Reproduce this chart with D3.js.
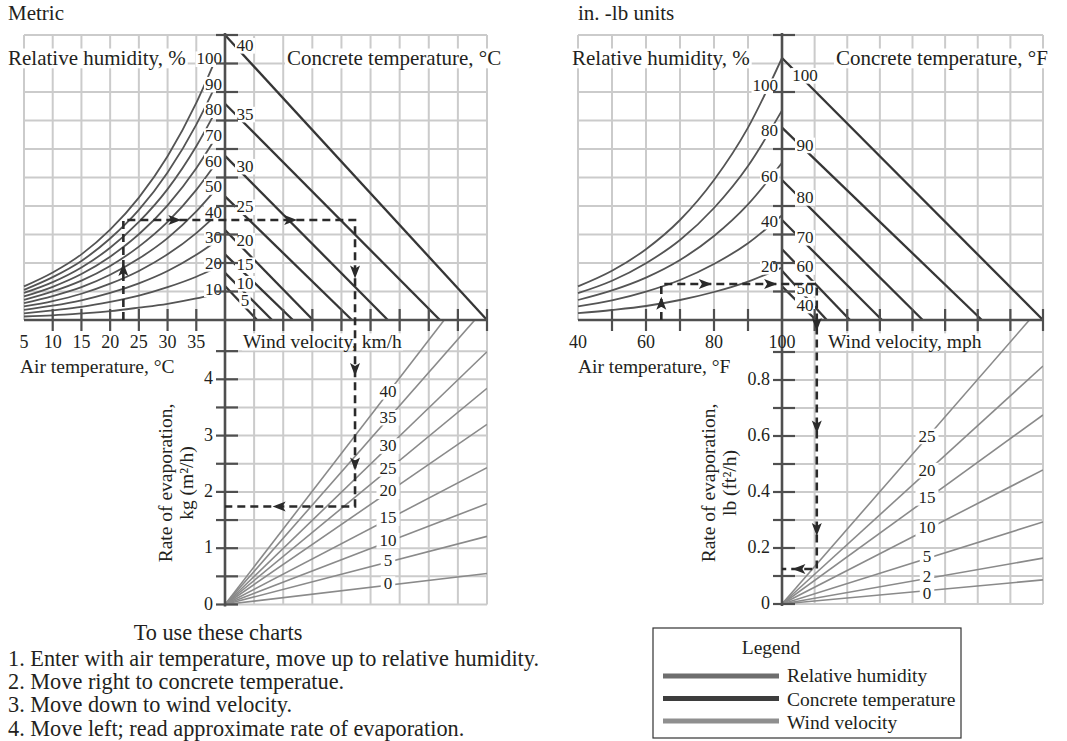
<!DOCTYPE html>
<html><head><meta charset="utf-8">
<script src="https://cdn.jsdelivr.net/npm/d3@7"></script>
<style>
body{margin:0;background:#fff;}
svg{display:block;font-family:"Liberation Serif","Times New Roman",serif;}
</style></head><body>
<svg id="chart" width="1067" height="741"></svg>
<script>
// ================= DATA =================
// ---- Metric chart (vapour pressure in kPa as the hidden nomograph unit) ----
const metricAirTemps = [5, 10, 15, 20, 25, 30, 35, 38];
const metricRHLevels = [100, 90, 80, 70, 60, 50, 40, 30, 20, 10];
const metricRHCurves = [
  [0.87, 1.23, 1.70, 2.34, 3.17, 4.24, 5.62, 6.62],
  [0.78, 1.11, 1.53, 2.11, 2.85, 3.82, 5.06, 5.96],
  [0.70, 0.98, 1.36, 1.87, 2.54, 3.39, 4.50, 5.30],
  [0.61, 0.86, 1.19, 1.64, 2.22, 2.97, 3.93, 4.63],
  [0.52, 0.74, 1.02, 1.40, 1.90, 2.54, 3.37, 3.97],
  [0.44, 0.62, 0.85, 1.17, 1.59, 2.12, 2.81, 3.31],
  [0.35, 0.49, 0.68, 0.94, 1.27, 1.70, 2.25, 2.65],
  [0.26, 0.37, 0.51, 0.70, 0.95, 1.27, 1.69, 1.99],
  [0.17, 0.25, 0.34, 0.47, 0.63, 0.85, 1.12, 1.32],
  [0.09, 0.12, 0.17, 0.23, 0.32, 0.42, 0.56, 0.66]
];
const metricAirTicks = [5, 10, 15, 20, 25, 30, 35];
const metricConcTemps = [40, 35, 30, 25, 20, 15, 10, 5];
const metricConcStart = [7.38, 5.60, 4.25, 3.20, 2.33, 1.70, 1.22, 0.88];
const metricConcEnd   = [6.79, 5.57, 4.22, 3.29, 2.28, 1.76, 1.22, 0.83];
const metricWindSpeeds = [40, 35, 30, 25, 20, 15, 10, 5, 0];
const metricWindEdgeRate = [6.04, 5.30, 4.49, 3.84, 3.20, 2.43, 1.79, 1.21, 0.55];
const metricRateTicks = [0, 1, 2, 3, 4];
const metricExample = [22.3, 2.59, 3.37, 1.74]; // air temp, vapour level, concrete crossing, rate

// ---- in.-lb chart ----
const imperialAirTemps = [40, 50, 60, 70, 80, 90, 100];
const imperialRHLevels = [100, 80, 60, 40, 20];
const imperialRHCurves = [
  [0.84, 1.23, 1.77, 2.50, 3.50, 4.81, 6.55],
  [0.67, 0.98, 1.42, 2.00, 2.80, 3.85, 5.24],
  [0.50, 0.74, 1.06, 1.50, 2.10, 2.89, 3.93],
  [0.34, 0.49, 0.71, 1.00, 1.40, 1.92, 2.62],
  [0.17, 0.25, 0.35, 0.50, 0.70, 0.96, 1.31]
];
const imperialAirTicks = [40, 60, 80, 100];
const imperialConcTemps = [100, 90, 80, 70, 60, 50, 40];
const imperialConcStart = [6.55, 4.81, 3.50, 2.50, 1.77, 1.23, 0.84];
const imperialConcEnd   = [6.53, 5.00, 3.52, 2.50, 1.70, 1.12, 0.85];
const imperialWindSpeeds = [25, 20, 15, 10, 5, 2, 0];
const imperialWindEdgeRate = [1.07, 0.85, 0.675, 0.479, 0.293, 0.164, 0.086];
const imperialRateTicks = [0, 0.2, 0.4, 0.6, 0.8];
const imperialExample = [64.5, 0.90, 0.87, 0.125];

const instructions = [
  "1. Enter with air temperature, move up to relative humidity.",
  "2. Move right to concrete temperatue.",
  "3. Move down to wind velocity.",
  "4. Move left; read approximate rate of evaporation."
];
const legendItems = ["Relative humidity", "Concrete temperature", "Wind velocity"];

// ================= STYLE =================
const TEXT = "#231f20", GRID = "#cbcbcb", AXIS = "#4f4f4f";
const RHC = "#545454", CONC = "#363636", WIND = "#8a8a8a", DASH = "#2a2a2a";
const LABEL = 17, MIN_GAP = 17;

const svg = d3.select("#chart");

function bgLabel(parent, str, x, y, anchor, size, pad) {
  pad = pad === undefined ? 1.5 : pad;
  const grp = parent.append("g");
  const rect = grp.append("rect").attr("fill", "#fff");
  const t = grp.append("text").attr("x", x).attr("y", y).attr("text-anchor", anchor)
    .attr("font-size", size).attr("fill", TEXT).text(str);
  const b = t.node().getBBox();
  rect.attr("x", b.x - pad).attr("y", b.y + size * 0.12).attr("width", b.width + 2 * pad)
      .attr("height", b.height - size * 0.2);
  return t;
}
// push labels apart vertically (sorted top to bottom) so they do not collide
function spread(labels) {
  const s = labels.slice().sort((a, b) => a.y - b.y);
  for (let i = 1; i < s.length; i++) {
    if (s[i].y - s[i - 1].y < MIN_GAP) s[i].y = s[i - 1].y + MIN_GAP;
  }
  return labels;
}
function arrow(parent, x, y, dir) {
  const ang = {up: -90, down: 90, left: 180, right: 0}[dir];
  parent.append("path").attr("d", "M7,0 L-6,-5 L-3,0 L-6,5 Z")
    .attr("transform", `translate(${x},${y}) rotate(${ang})`).attr("fill", DASH);
}
function yAtX(node, x) {
  const L = node.getTotalLength();
  let lo = 0, hi = L;
  for (let i = 0; i < 40; i++) {
    const mid = (lo + hi) / 2;
    if (node.getPointAtLength(mid).x < x) lo = mid; else hi = mid;
  }
  return node.getPointAtLength(lo).y;
}

function drawPanel(p) {
  const g = svg.append("g");
  const xAir = d3.scaleLinear().domain(p.airDomain).range([p.left, p.axisX]);
  const yVP = d3.scaleLinear().domain([0, p.vpTop]).range([p.axisY, p.top]);
  const xVP = d3.scaleLinear().domain([0, p.vpRight]).range([p.axisX, p.right]);
  const yRate = d3.scaleLinear().domain(p.rateDomain).range(p.rateRange);
  const xCol = d3.scaleLinear().domain([0, p.rightCols]).range([p.axisX, p.right]);
  const yRow = d3.scaleLinear().domain([0, 10]).range([p.axisY, p.top]);

  // ---- grid ----
  const grid = g.append("g").attr("stroke", GRID).attr("stroke-width", 2);
  grid.selectAll(".gl").data(p.airGrid).join("line")
    .attr("x1", d => xAir(d)).attr("x2", d => xAir(d)).attr("y1", p.top).attr("y2", p.axisY);
  grid.selectAll(".gr").data(d3.range(1, p.rightCols + 1)).join("line")
    .attr("x1", d => xCol(d)).attr("x2", d => xCol(d)).attr("y1", p.top).attr("y2", yRate(0));
  grid.selectAll(".ru").data(d3.range(0, 11)).join("line")
    .attr("x1", p.left).attr("x2", p.right).attr("y1", d => yRow(d)).attr("y2", d => yRow(d));
  grid.selectAll(".rl").data(p.rateGrid).join("line")
    .attr("x1", p.axisX).attr("x2", p.right).attr("y1", d => yRate(d)).attr("y2", d => yRate(d));

  // ---- title texts with white backing ----
  g.append("text").attr("x", p.left - p.titleInset).attr("y", 20).attr("font-size", 21)
    .attr("fill", TEXT).text(p.title);
  bgLabel(g, "Relative humidity, %", p.rhTitleX, 65, "start", 21, 2);
  bgLabel(g, p.concTitle, p.concTitleX, 65, "start", 21, 2);

  // ---- relative humidity curves ----
  const line = d3.line().x(d => xAir(d[0])).y(d => yVP(d[1])).curve(d3.curveMonotoneX);
  const rhPaths = p.rhCurves.map(vals =>
    g.append("path").attr("d", line(p.airTemps.map((t, j) => [t, vals[j]])))
      .attr("fill", "none").attr("stroke", RHC).attr("stroke-width", 1.8).node());

  // ---- concrete temperature lines ----
  g.selectAll(".conc").data(p.concTemps).join("line")
    .attr("x1", xVP(0)).attr("y1", (d, i) => yVP(p.concStart[i]))
    .attr("x2", (d, i) => xVP(p.concEnd[i])).attr("y2", yVP(0))
    .attr("stroke", CONC).attr("stroke-width", 2.3);

  // ---- wind velocity lines (clipped to lower right quadrant) ----
  const clipId = "clip" + p.id;
  svg.append("clipPath").attr("id", clipId).append("rect")
    .attr("x", p.axisX).attr("y", p.axisY).attr("width", p.right - p.axisX)
    .attr("height", yRate(0) - p.axisY + 2);
  g.append("g").attr("clip-path", `url(#${clipId})`).selectAll("line")
    .data(p.windSpeeds).join("line")
    .attr("x1", xVP(0)).attr("y1", yRate(0))
    .attr("x2", xVP(p.vpRight)).attr("y2", (d, i) => yRate(p.windEdgeRate[i]))
    .attr("stroke", WIND).attr("stroke-width", 1.6);

  // ---- labels on curves/lines ----
  const rhLab = p.rhLevels.map((lv, i) => {
    let y;
    if (p.rhLabelMode === "end") {
      const vals = p.rhCurves[i];
      y = yVP(vals[vals.length - 1]);
    } else {
      y = yAtX(rhPaths[i], p.axisX - 17) - 3;
    }
    return {t: String(lv), y};
  });
  spread(rhLab).forEach(l => bgLabel(g, l.t, p.axisX - p.rhLabelGap, l.y, "end", LABEL, 1));

  const concLab = p.concTemps.map((ct, i) => ({t: String(ct), y: yVP(p.concStart[i]) + p.concLabelDy}));
  spread(concLab).forEach(l => bgLabel(g, l.t, p.axisX + p.concLabelDx, l.y, "middle", LABEL, 1.5));

  const windLab = p.windSpeeds.map((w, i) => {
    const xv = xVP.invert(p.windLabelX);
    const r = p.windEdgeRate[i] * xv / p.vpRight;
    return {t: String(w), y: yRate(r) + 4};
  });
  spread(windLab).forEach(l => bgLabel(g, l.t, p.windLabelX, l.y, "middle", LABEL, 3));

  // ---- axes ----
  const ax = g.append("g").attr("stroke", AXIS);
  ax.append("line").attr("x1", p.left).attr("x2", p.right).attr("y1", p.axisY).attr("y2", p.axisY)
    .attr("stroke-width", 2.6);
  ax.append("line").attr("x1", p.axisX).attr("x2", p.axisX).attr("y1", p.top - 2).attr("y2", yRate(0) + 2)
    .attr("stroke-width", 2.6);
  const hTicks = p.airInnerTicks.map(t => xAir(t)).concat(d3.range(1, p.rightCols + 1).map(c => xCol(c)));
  ax.selectAll(".ht").data(hTicks).join("line")
    .attr("x1", d => d).attr("x2", d => d).attr("y1", p.axisY - 11).attr("y2", p.axisY + 11)
    .attr("stroke-width", 2.2);
  ax.selectAll(".vu").data(p.upperTickRows).join("line")
    .attr("x1", p.axisX - 9).attr("x2", p.axisX + 13).attr("y1", d => yRow(d)).attr("y2", d => yRow(d))
    .attr("stroke-width", 2.2);
  ax.selectAll(".vl").data(p.rateGrid).join("line")
    .attr("x1", p.axisX - 9).attr("x2", p.axisX + 13).attr("y1", d => yRate(d)).attr("y2", d => yRate(d))
    .attr("stroke-width", 2.2);

  // ---- axis tick labels ----
  g.selectAll(".atl").data(p.airTicks).join("text")
    .attr("x", d => xAir(d)).attr("y", 348).attr("text-anchor", "middle")
    .attr("font-size", 18).attr("fill", TEXT).text(d => d);
  g.selectAll(".rtl").data(p.rateTicks).join("text")
    .attr("x", p.axisX - 12).attr("y", d => yRate(d) + 5).attr("text-anchor", "end")
    .attr("font-size", 18).attr("fill", TEXT).text(p.rateFormat);

  // ---- axis titles ----
  g.append("text").attr("x", p.left - 4 + p.airTitleDx).attr("y", 373).attr("font-size", 19.5)
    .attr("fill", TEXT).text(p.airTitle);
  bgLabel(g, p.windTitle, p.windTitleX, 348, "start", 19.5, 1);
  g.append("text").attr("transform", `translate(${p.rateTitleX},483) rotate(-90)`)
    .attr("text-anchor", "middle").attr("dominant-baseline", "central")
    .attr("font-size", 19.5).attr("fill", TEXT).text("Rate of evaporation,");
  g.append("text").attr("transform", `translate(${p.rateTitleX + 21},483) rotate(-90)`)
    .attr("text-anchor", "middle").attr("dominant-baseline", "central")
    .attr("font-size", 19.5).attr("fill", TEXT).text(p.rateUnit);

  // ---- worked example (dashed path + arrows) ----
  const [ea, ev, ed, er] = p.example;
  const pts = [[xAir(ea), yVP(0)], [xAir(ea), yVP(ev)], [xVP(ed), yVP(ev)], [xVP(ed), yRate(er)], [xVP(0), yRate(er)]];
  g.append("path").attr("d", d3.line()(pts)).attr("fill", "none").attr("stroke", DASH)
    .attr("stroke-width", 2.6).attr("stroke-dasharray", "8,5");
  const dirs = ["up", "right", "down", "left"];
  p.arrowFracs.forEach((fr, s) => {
    fr.forEach(f => {
      const x = pts[s][0] + (pts[s + 1][0] - pts[s][0]) * f;
      const y = pts[s][1] + (pts[s + 1][1] - pts[s][1]) * f;
      arrow(g, x, y, dirs[s]);
    });
  });
}

drawPanel({
  id: "m", title: "Metric", titleInset: 16, left: 24, axisX: 225, right: 487, top: 35, axisY: 320,
  airDomain: [5, 40], vpTop: 7.38, vpRight: 6.79, rateDomain: [0, 5], rateRange: [604.5, 323],
  rightCols: 9, airGrid: d3.range(5, 41, 5), airInnerTicks: d3.range(10, 40, 5),
  rateGrid: d3.range(0, 10).map(k => k * 0.5), upperTickRows: d3.range(1, 11),
  airTemps: metricAirTemps, rhLevels: metricRHLevels, rhCurves: metricRHCurves, rhLabelMode: "end", rhLabelGap: 3,
  concTemps: metricConcTemps, concStart: metricConcStart, concEnd: metricConcEnd, concLabelDx: 20, concLabelDy: 16,
  windSpeeds: metricWindSpeeds, windEdgeRate: metricWindEdgeRate, windLabelX: 388,
  airTicks: metricAirTicks, rateTicks: metricRateTicks, rateFormat: d => d3.format("d")(d),
  rhTitleX: 8, concTitle: "Concrete temperature, °C", concTitleX: 287,
  airTitle: "Air temperature, °C", airTitleDx: 0, windTitle: "Wind velocity, km/h", windTitleX: 243,
  rateTitleX: 165, rateUnit: "kg (m²/h)",
  example: metricExample, arrowFracs: [[0.5], [0.22, 0.72], [0.18, 0.52, 0.85], [0.58]]
});

drawPanel({
  id: "i", title: "in. -lb units", titleInset: 0, left: 578, axisX: 782, right: 1043, top: 35, axisY: 320,
  airDomain: [40, 100], vpTop: 7.125, vpRight: 6.53, rateDomain: [0, 1], rateRange: [604, 324],
  rightCols: 8, airGrid: d3.range(40, 101, 10), airInnerTicks: d3.range(50, 100, 10),
  rateGrid: d3.range(0, 10).map(k => k / 10), upperTickRows: [1, 2, 3, 4, 6, 8, 10],
  airTemps: imperialAirTemps, rhLevels: imperialRHLevels, rhCurves: imperialRHCurves, rhLabelMode: "along", rhLabelGap: 4,
  concTemps: imperialConcTemps, concStart: imperialConcStart, concEnd: imperialConcEnd, concLabelDx: 23, concLabelDy: 23,
  windSpeeds: imperialWindSpeeds, windEdgeRate: imperialWindEdgeRate, windLabelX: 927,
  airTicks: imperialAirTicks, rateTicks: imperialRateTicks, rateFormat: d => d === 0 ? "0" : d3.format(".1f")(d),
  rhTitleX: 572, concTitle: "Concrete temperature, °F", concTitleX: 836,
  airTitle: "Air temperature, °F", airTitleDx: 4, windTitle: "Wind velocity, mph", windTitleX: 828,
  rateTitleX: 708, rateUnit: "lb (ft²/h)",
  example: imperialExample, arrowFracs: [[0.45], [0.28, 0.7], [0.14, 0.5, 0.86], [0.5]]
});

// ---- instructions ----
const ins = svg.append("g").attr("fill", TEXT).attr("font-size", 22.3);
ins.append("text").attr("x", 218).attr("y", 640).attr("text-anchor", "middle").text("To use these charts");
ins.selectAll(".ln").data(instructions).join("text")
  .attr("x", 8).attr("y", (d, i) => 665.5 + i * 23.4).text(d => d);

// ---- legend ----
const lg = svg.append("g");
const legX = 653, legY = 628, legW = 308, legH = 110;
lg.append("rect").attr("x", legX).attr("y", legY).attr("width", legW).attr("height", legH)
  .attr("fill", "#fff").attr("stroke", "#333").attr("stroke-width", 1.2);
lg.append("text").attr("x", legX + 118).attr("y", 654).attr("text-anchor", "middle")
  .attr("font-size", 19.5).attr("fill", TEXT).text("Legend");
const legColors = ["#6e6e6e", "#3d3d3d", "#8f8f8f"];
lg.selectAll(".li").data(legendItems).join("line")
  .attr("x1", legX + 10).attr("x2", legX + 126).attr("y1", (d, i) => 676 + i * 22.5).attr("y2", (d, i) => 676 + i * 22.5)
  .attr("stroke", (d, i) => legColors[i]).attr("stroke-width", 5);
lg.selectAll(".lt").data(legendItems).join("text")
  .attr("x", legX + 134).attr("y", (d, i) => 682 + i * 23.5).attr("font-size", 19.5).attr("fill", TEXT).text(d => d);
</script>
</body></html>
